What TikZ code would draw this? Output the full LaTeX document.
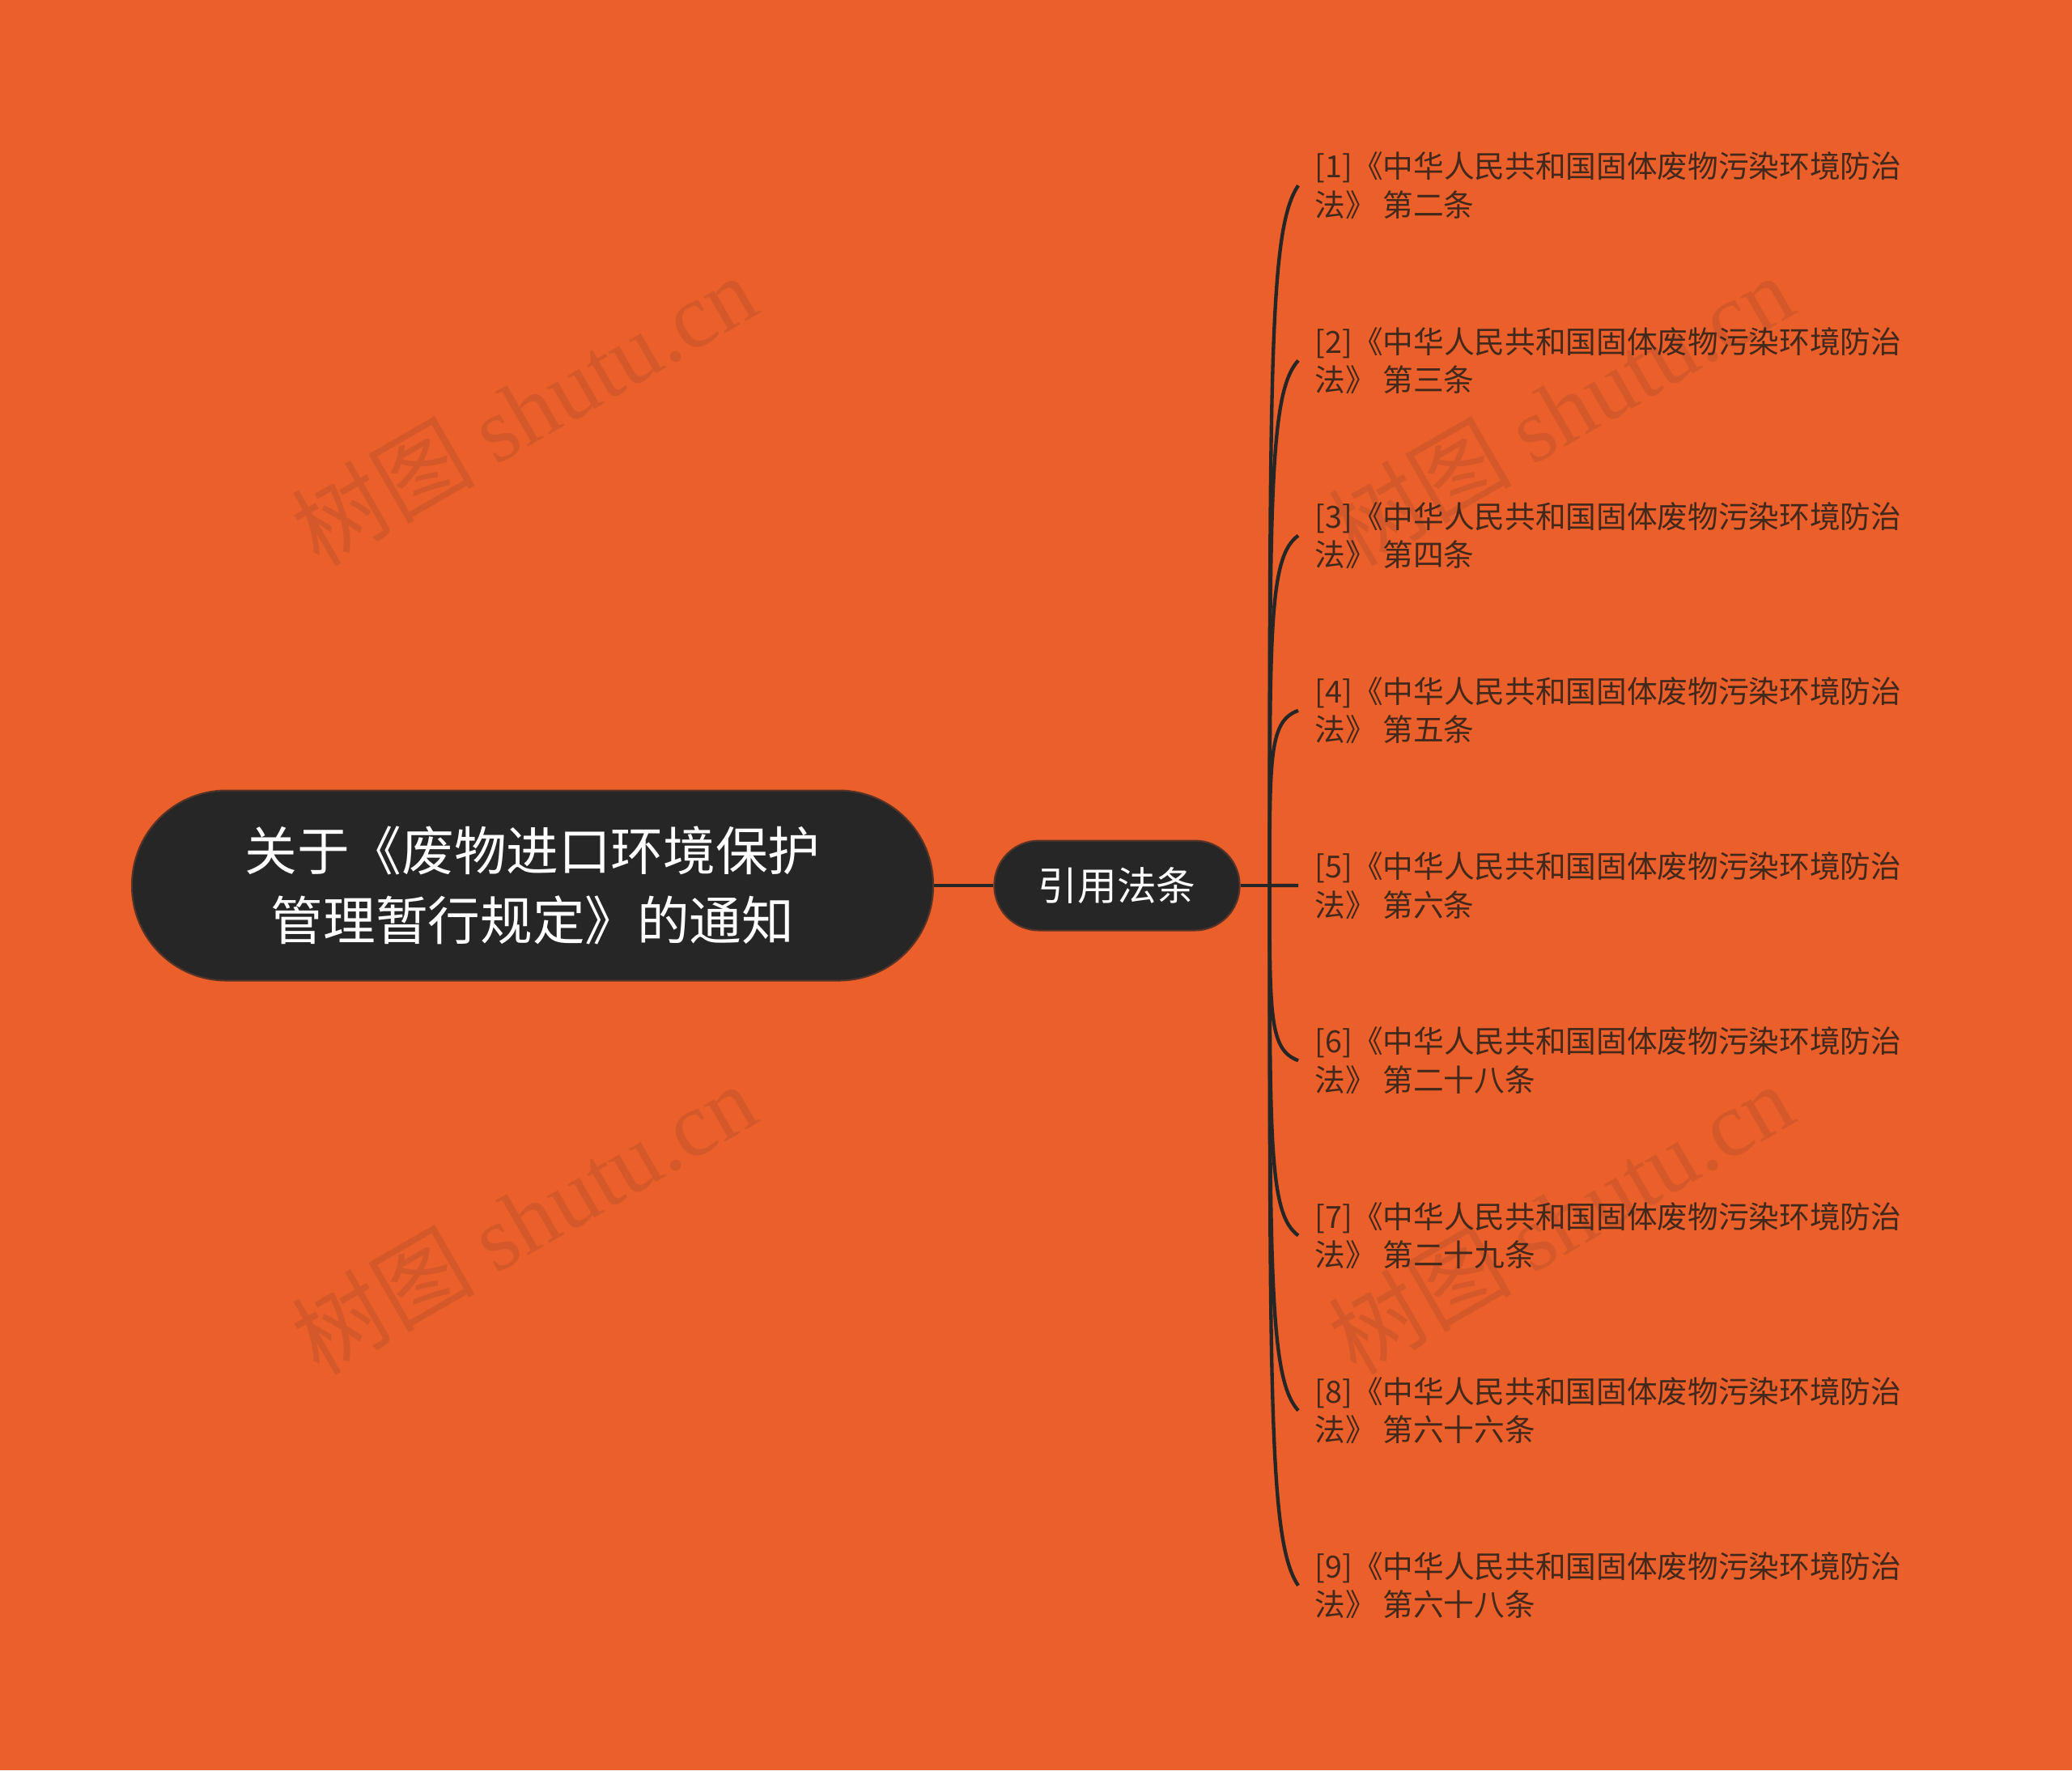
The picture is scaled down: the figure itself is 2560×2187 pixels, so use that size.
\documentclass[tikz,border=0pt]{standalone}
\usepackage{fontspec}
\setmainfont{Noto Sans CJK SC}
\newfontfamily\wmfont{Liberation Serif}
\usetikzlibrary{positioning,calc}

\definecolor{bgorange}{HTML}{EA5F2A}
\definecolor{nodedark}{HTML}{262626}
\definecolor{leafbrown}{HTML}{43281C}
\definecolor{wmorange}{HTML}{C4542C}

\begin{document}
\begin{tikzpicture}[x=0.3pt,y=-0.3pt]
    \tikzset{
        topic/.style={fill=nodedark, draw=nodedark!75!bgorange, line width=0.6pt, text=white, align=center, inner sep=0pt},
        leaf/.style={text=leafbrown, align=left, anchor=west, inner sep=0pt, font=\fontsize{11.3}{14.2}\selectfont},
        link/.style={draw=nodedark, line width=1.3pt},
        wmark/.style={text=wmorange, opacity=0.55, rotate=30, inner sep=0pt, font=\fontsize{34}{34}\selectfont}
    }

    % background and page size
    \fill[bgorange] (0,0) rectangle (2560,2187);
    \useasboundingbox (0,0) rectangle (2560,2187);

    % watermarks
    \foreach \wx/\wy in {647/506, 1928/506, 647/1505, 1928/1505}
        \node[wmark] at (\wx,\wy) {树图 {\wmfont shutu.cn}};

    \node[topic, minimum width=297pt, minimum height=70.5pt, rounded corners=35pt,
          font=\fontsize{19.4}{26}\selectfont] (root) at (658,1094)
        {关于《废物进口环境保护\\管理暂行规定》的通知};
    \node[topic, minimum width=91pt, minimum height=33.3pt, rounded corners=16.6pt,
          font=\fontsize{14.6}{18}\selectfont, right=22pt of root] (cite) {引用法条};
    \coordinate[right=10.8pt of cite] (hub);

    \foreach \i/\n in {1/二, 2/三, 3/四, 4/五, 5/六, 6/二十八, 7/二十九, 8/六十六, 9/六十八}
        \node[leaf] (leaf\i) at (1624, {1094+(\i-5)*216.2})
            {[\i]《中华人民共和国固体废物污染环境防治\\法》 第\n 条};

    \draw[link] (root) -- (cite);
    \draw[link] (cite) -- (hub);
    \foreach \i in {1,...,9}
        \draw[link] (hub) .. controls ($(hub)!0.75!(hub |- leaf\i.west)$)
            and ($(hub)!0.94!(hub |- leaf\i.west)$) .. ([xshift=-6pt]leaf\i.west);
\end{tikzpicture}
\end{document}
